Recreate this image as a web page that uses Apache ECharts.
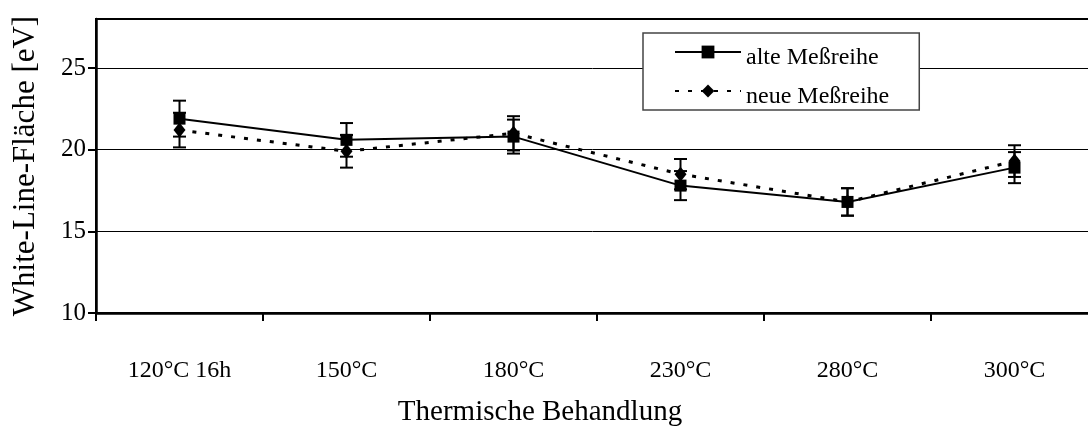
<!DOCTYPE html>
<html>
<head>
<meta charset="utf-8">
<script src="https://cdn.jsdelivr.net/npm/echarts@6/dist/echarts.min.js"></script>
<style>
  html, body { margin: 0; padding: 0; background: #fff; }
  #chart { width: 1088px; height: 432px; }
</style>
</head>
<body>
<div id="chart"></div>
<script>
// Heat treatment steps and white-line areas (eV) of both measurement series
const categories = ['120°C 16h', '150°C', '180°C', '230°C', '280°C', '300°C'];
const alteValues = [21.9, 20.6, 20.8, 17.8, 16.8, 18.9];
const alteErrors = [1.10, 1.03, 1.04, 0.89, 0.84, 0.95];
const neueValues = [21.2, 19.9, 21.0, 18.5, 16.8, 19.3];
const neueErrors = [1.06, 1.00, 1.05, 0.93, 0.84, 0.97];
const yTickValues = [10, 15, 20, 25];

const FONT = '"Liberation Serif", "Times New Roman", serif';

function errorData(values, errors) {
  return values.map((v, i) => [i, v - errors[i], v + errors[i]]);
}

// Vertical error bar with caps at both ends
function renderErrorBar(params, api) {
  const x = api.value(0);
  const lo = api.coord([x, api.value(1)]);
  const hi = api.coord([x, api.value(2)]);
  const half = 6.5;
  const style = { stroke: '#000', lineWidth: 2 };
  return {
    type: 'group',
    children: [
      { type: 'line', shape: { x1: lo[0], y1: lo[1], x2: hi[0], y2: hi[1] }, style },
      { type: 'line', shape: { x1: hi[0] - half, y1: hi[1], x2: hi[0] + half, y2: hi[1] }, style },
      { type: 'line', shape: { x1: lo[0] - half, y1: lo[1], x2: lo[0] + half, y2: lo[1] }, style }
    ]
  };
}

const chart = echarts.init(document.getElementById('chart'), null, { renderer: 'canvas' });
chart.setOption({
  animation: false,
  backgroundColor: '#fff',
  textStyle: { fontFamily: FONT, color: '#000' },
  // the plot runs on past the right edge of the page
  grid: {
    left: 96, width: 1002, top: 19, height: 294,
    outerBoundsMode: 'none',
    show: true, borderColor: '#000', borderWidth: 2, backgroundColor: 'transparent'
  },
  legend: {
    data: ['alte Meßreihe', 'neue Meßreihe'],
    orient: 'vertical',
    left: 643, top: 33,
    padding: [0, 30, 1, 31],
    itemGap: 2,
    itemWidth: 66,
    itemHeight: 16,
    backgroundColor: '#fff',
    borderColor: '#444',
    borderWidth: 1.5,
    borderRadius: 0,
    // an empty first line lowers the label a little below the key line
    formatter: '{g|}\n{t|{name}}',
    textStyle: {
      fontFamily: FONT, fontSize: 24, color: '#000',
      rich: {
        g: { height: 12, lineHeight: 12, fontSize: 12 },
        t: { fontFamily: FONT, fontSize: 24, lineHeight: 26, color: '#000' }
      }
    }
  },
  xAxis: {
    type: 'category',
    data: categories,
    boundaryGap: true,
    name: 'Thermische Behandlung',
    nameLocation: 'middle',
    nameGap: 85,
    nameTextStyle: { fontFamily: FONT, fontSize: 29, color: '#000', padding: [0, 114, 0, 0] },
    axisLine: { lineStyle: { color: '#000', width: 2.5 } },
    axisTick: { show: true, length: 8, lineStyle: { color: '#000', width: 2 } },
    axisLabel: { margin: 46, fontFamily: FONT, fontSize: 24, color: '#000' },
    splitLine: { show: false }
  },
  yAxis: {
    type: 'value',
    min: 10, max: 28, interval: 5,
    name: 'White-Line-Fläche [eV]',
    nameLocation: 'middle',
    nameGap: 55,
    nameTextStyle: { fontFamily: FONT, fontSize: 31, color: '#000' },
    axisLine: { show: true, lineStyle: { color: '#000', width: 2.5 } },
    axisTick: { show: true, length: 8, customValues: yTickValues, lineStyle: { color: '#000', width: 2 } },
    axisLabel: { margin: 10, customValues: yTickValues, fontFamily: FONT, fontSize: 25, color: '#000' },
    splitLine: { show: true, lineStyle: { color: '#000', width: 1 } }
  },
  series: [
    {
      name: 'alte Meßreihe',
      type: 'line',
      data: alteValues,
      symbol: 'rect',
      symbolSize: 12,
      itemStyle: { color: '#000' },
      lineStyle: { color: '#000', width: 2, type: 'solid' },
      z: 4
    },
    {
      name: 'neue Meßreihe',
      type: 'line',
      data: neueValues,
      symbol: 'diamond',
      symbolSize: [12, 15],
      itemStyle: { color: '#000' },
      lineStyle: { color: '#000', width: 3, type: [4, 9] },
      z: 3
    },
    {
      type: 'custom',
      data: errorData(alteValues, alteErrors),
      renderItem: renderErrorBar,
      encode: { x: 0, y: [1, 2] },
      silent: true,
      z: 5
    },
    {
      type: 'custom',
      data: errorData(neueValues, neueErrors),
      renderItem: renderErrorBar,
      encode: { x: 0, y: [1, 2] },
      silent: true,
      z: 5
    }
  ]
});
</script>
</body>
</html>
